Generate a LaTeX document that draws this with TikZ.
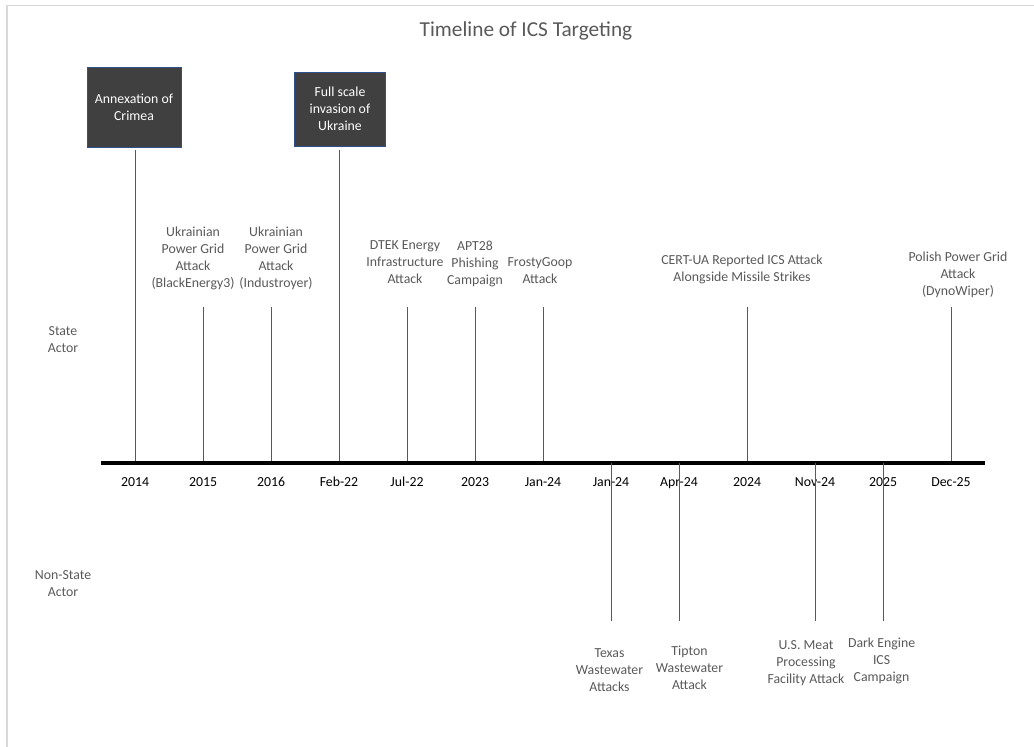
\documentclass[tikz,border=0pt]{standalone}
\usepackage{fontspec}
\setmainfont{Carlito}
\usepackage{tikz}
\usetikzlibrary{positioning}
\definecolor{txtgray}{HTML}{595959}
\definecolor{stemgray}{HTML}{595959}
\definecolor{boxfill}{HTML}{404040}
\definecolor{boxedge}{HTML}{2F528F}
\definecolor{framegray}{HTML}{D9D9D9}

\begin{document}
\begin{tikzpicture}[x=1pt, y=-1pt,
  event/.style={align=center, text=txtgray, font=\fontsize{13.8}{17}\selectfont, inner sep=0pt},
  datelab/.style={anchor=base, font=\fontsize{13.8}{17}\selectfont, inner sep=0pt},
  darkbox/.style={draw=boxedge, fill=boxfill, text=white, align=center, font=\fontsize{13.8}{17}\selectfont, inner sep=0pt},
  stem/.style={stemgray, line width=1pt},
  axisline/.style={line width=3.5pt}]
  \useasboundingbox (0,0) rectangle (1034,747);
  \draw[framegray, line width=1.5pt] (7,747) -- (7,5.5) -- (1034,5.5);

  \node at (526,31) [text=txtgray, font=\fontsize{21.3}{25}\selectfont] (title) {Timeline of ICS Targeting};
  \node at (63,340) [event] (state) {State\\Actor};
  \node at (63,584) [event] (nonstate) {Non-State\\Actor};

  \node at (134,107.5) [darkbox, minimum width=94pt, minimum height=80pt] (crimea) {Annexation of\\Crimea};
  \node at (340,109) [darkbox, minimum width=91pt, minimum height=74pt] (invasion) {Full scale\\invasion of\\Ukraine};
  \node at (193,258) [event] (blackenergy) {Ukrainian\\Power Grid\\Attack\\(BlackEnergy3)};
  \node at (276,258) [event] (industroyer) {Ukrainian\\Power Grid\\Attack\\(Industroyer)};
  \node at (405,262) [event] (dtek) {DTEK Energy\\Infrastructure\\Attack};
  \node at (475,264) [event] (apt28) {APT28\\Phishing\\Campaign};
  \node at (540,271) [event] (frosty) {FrostyGoop\\Attack};
  \node at (742,269.5) [event] (certua) {CERT-UA Reported ICS Attack\\Alongside Missile Strikes};
  \node at (958,275) [event] (polish) {Polish Power Grid\\Attack\\(DynoWiper)};
  \node at (609.5,670) [event] (texas) {Texas\\Wastewater\\Attacks};
  \node at (689.5,668) [event] (tipton) {Tipton\\Wastewater\\Attack};
  \node at (806,663) [event] (meat) {U.S. Meat\\Processing\\Facility Attack};
  \node at (881.6,661) [event] (darkengine) {Dark Engine\\ICS\\Campaign};

  \coordinate (axL) at (101,463);
  \coordinate (axR) at (985,463);
  \coordinate (s2014) at (135,150);
  \coordinate (s2015) at (203,307);
  \coordinate (s2016) at (271,307);
  \coordinate (sfeb22) at (339,150);
  \coordinate (sjul22) at (407,307);
  \coordinate (s2023) at (475,307);
  \coordinate (sjan24) at (543,307);
  \coordinate (s2024) at (747,307);
  \coordinate (sdec25) at (951,307);
  \coordinate (ujan24) at (611,621);
  \coordinate (uapr24) at (679,621);
  \coordinate (unov24) at (815,621);
  \coordinate (u2025) at (883,621);

  \draw[stem] (s2014) -- (s2014 |- axL);
  \draw[stem] (s2015) -- (s2015 |- axL);
  \draw[stem] (s2016) -- (s2016 |- axL);
  \draw[stem] (sfeb22) -- (sfeb22 |- axL);
  \draw[stem] (sjul22) -- (sjul22 |- axL);
  \draw[stem] (s2023) -- (s2023 |- axL);
  \draw[stem] (sjan24) -- (sjan24 |- axL);
  \draw[stem] (s2024) -- (s2024 |- axL);
  \draw[stem] (sdec25) -- (sdec25 |- axL);
  \draw[axisline] (axL) -- (axR);

  \node at (135,486.5) [datelab] (d2014) {2014};
  \node at (203,486.5) [datelab] (d2015) {2015};
  \node at (271,486.5) [datelab] (d2016) {2016};
  \node at (339,486.5) [datelab] (dfeb22) {Feb-22};
  \node at (407,486.5) [datelab] (djul22) {Jul-22};
  \node at (475,486.5) [datelab] (d2023) {2023};
  \node at (543,486.5) [datelab] (djan24a) {Jan-24};
  \node at (611,486.5) [datelab] (djan24b) {Jan-24};
  \node at (679,486.5) [datelab] (dapr24) {Apr-24};
  \node at (747,486.5) [datelab] (d2024) {2024};
  \node at (815,486.5) [datelab] (dnov24) {Nov-24};
  \node at (883,486.5) [datelab] (d2025) {2025};
  \node at (951,486.5) [datelab] (ddec25) {Dec-25};

  \draw[stem] (ujan24 |- axL) -- (ujan24);
  \draw[stem] (uapr24 |- axL) -- (uapr24);
  \draw[stem] (unov24 |- axL) -- (unov24);
  \draw[stem] (u2025 |- axL) -- (u2025);
\end{tikzpicture}
\end{document}
